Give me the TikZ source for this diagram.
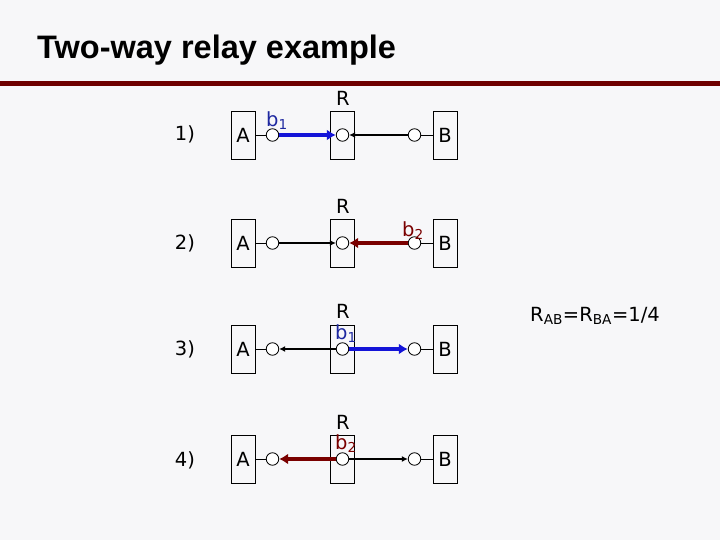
\documentclass[tikz,border=0pt]{standalone}
\usepackage{fontspec}
\setmainfont{DejaVu Sans}
\newfontfamily\titlefont{Liberation Sans}
\usetikzlibrary{arrows.meta}
\definecolor{bg}{HTML}{F7F7F9}
\definecolor{barred}{HTML}{6E0000}
\definecolor{arrblue}{HTML}{1414D8}
\definecolor{txtblue}{HTML}{1E28A0}
\definecolor{arrred}{HTML}{7A0000}
\tikzset{
  unitbox/.style={draw=black, line width=0.8pt, minimum width=24pt, minimum height=48pt, inner sep=0pt, font=\fontsize{19.5}{22}\selectfont},
  port/.style={draw=black, line width=0.8pt, circle, fill=white, minimum size=12.5pt, inner sep=0pt},
  lbl/.style={font=\fontsize{19.5}{22}\selectfont, inner sep=0pt},
  thinarr/.style={line width=1.5pt, -{Latex[length=6pt,width=6pt]}},
  thickblue/.style={line width=4.5pt, arrblue, -{Latex[length=9pt,width=11pt]}},
  thickred/.style={line width=4.5pt, arrred, -{Latex[length=9pt,width=11pt]}},
  link/.style={line width=0.8pt}
}
\begin{document}
\begin{tikzpicture}[x=1pt,y=-1pt]
\useasboundingbox (0,0) rectangle (720,540);
\fill[bg] (0,0) rectangle (720,540);
\node[anchor=west, inner sep=0pt, font=\titlefont\bfseries\fontsize{32.5}{35}\selectfont] (title) at (37,50) {Two-way relay example};
\fill[barred] (0,81) rectangle (720,86.5);

% row labels
\node[lbl] (n1) at (185,134) {1)};
\node[lbl] (n2) at (185,243) {2)};
\node[lbl] (n3) at (185,349) {3)};
\node[lbl] (n4) at (185,460) {4)};

% rows
\foreach \i/\y in {1/135, 2/243, 3/349, 4/459} {
  \node[unitbox] (A\i) at (243,\y) {A};
  \node[unitbox] (R\i) at (342.5,\y) {};
  \node[unitbox] (B\i) at (445,\y) {B};
  \node[port] (a\i) at (272.5,\y) {};
  \node[port] (r\i) at (342.5,\y) {};
  \node[port] (b\i) at (414.5,\y) {};
  \draw[link] (A\i) -- (a\i);
  \draw[link] (b\i) -- (B\i);
}

% R labels
\node[lbl] (Rl1) at (343,98) {R};
\node[lbl] (Rl2) at (343,206) {R};
\node[lbl] (Rl3) at (343,311) {R};
\node[lbl] (Rl4) at (343,422) {R};

% row 1
\draw[thickblue] (a1) -- (r1);
\draw[thinarr] (b1) -- (r1);
\node[lbl, txtblue] (lb1) at (277,121) {b\textsubscript{1}};
% row 2
\draw[thinarr] (a2) -- (r2);
\draw[thickred] (b2) -- (r2);
\node[lbl, arrred] (lb2) at (413,231) {b\textsubscript{2}};
% row 3
\draw[thinarr] (r3) -- (a3);
\draw[thickblue] (r3) -- (b3);
\node[lbl, txtblue] (lb3) at (346,334) {b\textsubscript{1}};
% row 4
\draw[thickred] (r4) -- (a4);
\draw[thinarr] (r4) -- (b4);
\node[lbl, arrred] (lb4) at (346,444) {b\textsubscript{2}};

\node[lbl] (rate) at (595,316) {R\textsubscript{AB}=R\textsubscript{BA}=1/4};
\end{tikzpicture}
\end{document}
